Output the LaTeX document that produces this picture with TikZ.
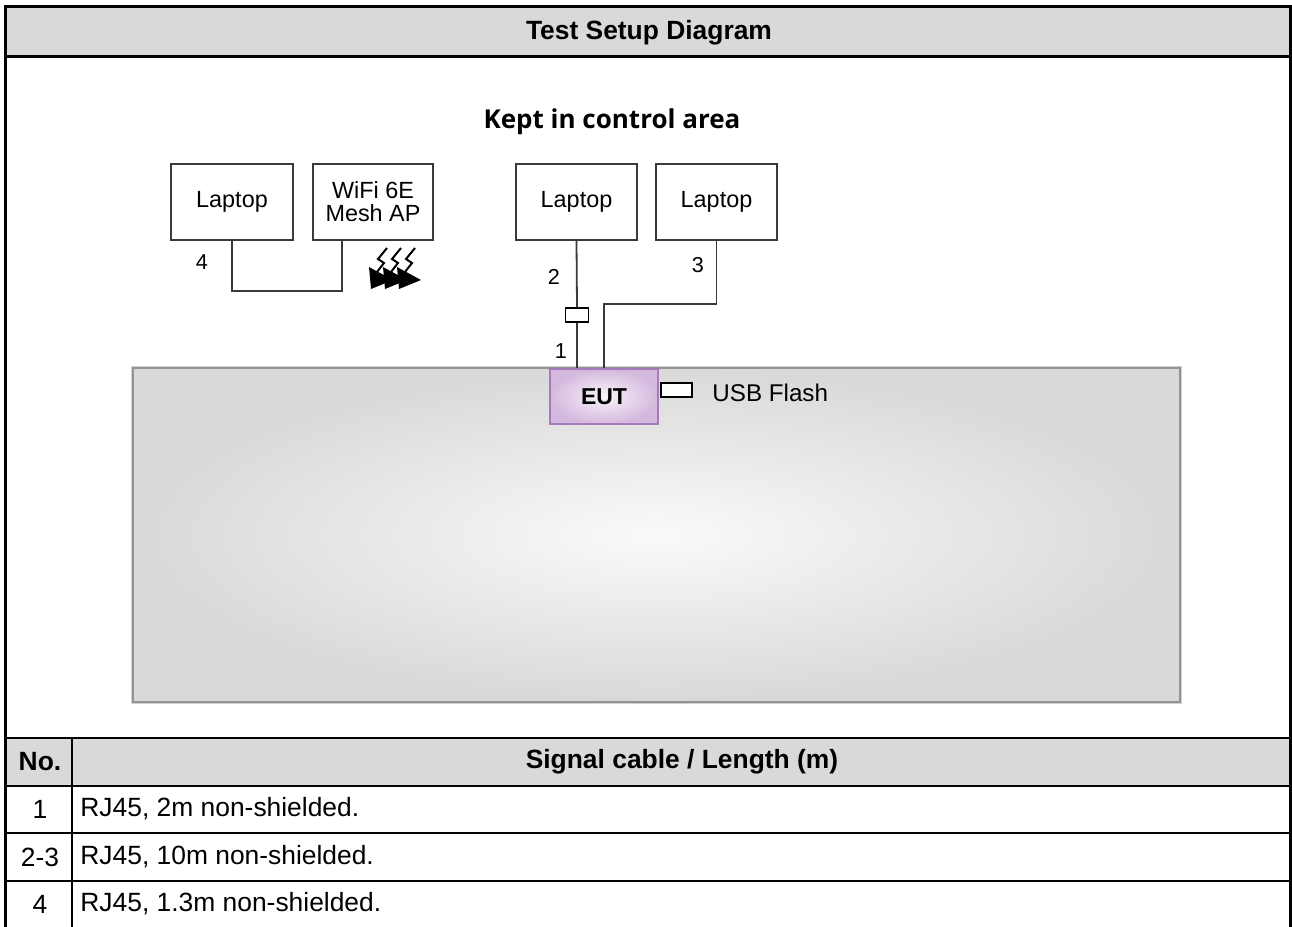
\documentclass[tikz,border=0pt]{standalone}
\usepackage{fontspec}
\setmainfont{Liberation Sans}
\newfontfamily\keptfont{Open Sans}
\usetikzlibrary{calc}
\definecolor{hdrgray}{HTML}{D9D9D9}
\definecolor{boxline}{HTML}{3A3A3A}
\definecolor{eutfill}{HTML}{D4B8DE}
\definecolor{eutline}{HTML}{A47ABA}
\tikzset{
  devbox/.style={draw=boxline,line width=0.75pt,fill=white,minimum width=61pt,minimum height=38pt,inner sep=0pt,align=center,font=\fontsize{11.7}{11.5}\selectfont},
  cable/.style={draw=boxline,line width=0.9pt},
  cablelab/.style={inner sep=0pt,font=\fontsize{10.8}{12}\selectfont},
  celltext/.style={inner sep=0pt,font=\fontsize{13.2}{15}\selectfont},
  rowline/.style={line width=1.2pt}
}
\begin{document}
\begin{tikzpicture}[x=0.5pt,y=-0.5pt]
\useasboundingbox (0,0) rectangle (1292,927);

% table frame
\fill[hdrgray] (7,8) rectangle (1289,55);
\fill[hdrgray] (7,739) rectangle (1289,785);
\draw[line width=1.75pt] (5.5,927) -- (5.5,6.5) -- (1290.5,6.5) -- (1290.5,927);
\draw[line width=1.5pt] (7,56) -- (1289,56);
\draw[line width=0.7pt] (7,738) -- (1289,738);
\draw[rowline] (7,786) -- (1289,786);
\draw[rowline] (7,833) -- (1289,833);
\draw[rowline] (7,881) -- (1289,881);
\draw[line width=1pt] (72,738) -- (72,927);

\node[celltext,font=\bfseries\fontsize{13.2}{15}\selectfont](title) at (649,33) {Test Setup Diagram};
\node[celltext,font=\bfseries\fontsize{13.2}{15}\selectfont](hno) at (40,762) {No.};
\node[celltext,font=\bfseries\fontsize{13.2}{15}\selectfont](hcable) at (682,762) {Signal cable / Length (m)};
\node[celltext](no1) at (40,809) {1};
\node[celltext](no2) at (40,857) {2-3};
\node[celltext](no3) at (40,904) {4};
\node[celltext,anchor=west](row1) at (80,809) {RJ45, 2m non-shielded.};
\node[celltext,anchor=west](row2) at (80,857) {RJ45, 10m non-shielded.};
\node[celltext,anchor=west](row3) at (80,904) {RJ45, 1.3m non-shielded.};

% test table
\draw[draw=gray!35,line width=2.4pt] (133,368) rectangle (1180,702);
\shade[inner color=white!96!gray,outer color=gray!30,draw=gray!85,line width=1.1pt] (133,368) rectangle (1180,702);

\node[inner sep=0pt,font=\keptfont\bfseries\fontsize{13}{15}\selectfont](kept) at (612,122) {Kept in control area};

\node[devbox](lapa) at (232,202) {Laptop};
\node[devbox,minimum width=60pt](mesh) at (373,202) {WiFi 6E\\Mesh AP};
\node[devbox,minimum width=60.5pt](lapb) at (576.5,202) {Laptop};
\node[devbox,minimum width=60.5pt](lapc) at (716.5,202) {Laptop};

\node[draw=eutline,line width=0.9pt,inner color=white!85!eutfill,outer color=eutfill,minimum width=54pt,minimum height=27.5pt,inner sep=0pt,font=\bfseries\fontsize{11.5}{13}\selectfont](eut) at (604,396.5) {EUT};
\node[draw=black,line width=0.75pt,fill=white,minimum width=15.5pt,minimum height=7pt,inner sep=0pt](usb) at (676.5,390) {};
\node[inner sep=0pt,anchor=west,font=\fontsize{12.1}{14}\selectfont](usbtext) at (712,393) {USB Flash};
\node[draw=black,line width=0.75pt,fill=white,minimum width=11.5pt,minimum height=7pt,inner sep=0pt](plug) at (577,315) {};

% cables
\draw[cable] (lapa.south) |- (287,291) -| ($(mesh.south)+(-31,0)$);
\draw[cable] (lapb.south) -- (plug.north);
\draw[cable] (plug.south) -- (plug.south |- eut.north);
\draw[cable] (lapc.south) |- (660,304) -| (eut.north);

\node[cablelab](lab4) at (202,262) {4};
\node[cablelab](lab2) at (554,277) {2};
\node[cablelab](lab3) at (698,265) {3};
\node[cablelab](lab1) at (561,351) {1};

% wireless icon
\foreach \dx in {0,14,28} {
  \draw[line width=1pt] (387+\dx,248) -- (378+\dx,259) -- (384+\dx,263) -- (377+\dx,272) -- (381+\dx,277);
  \fill (369+\dx,267) -- (393+\dx,280) -- (371+\dx,289) -- cycle;
}
\end{tikzpicture}
\end{document}
